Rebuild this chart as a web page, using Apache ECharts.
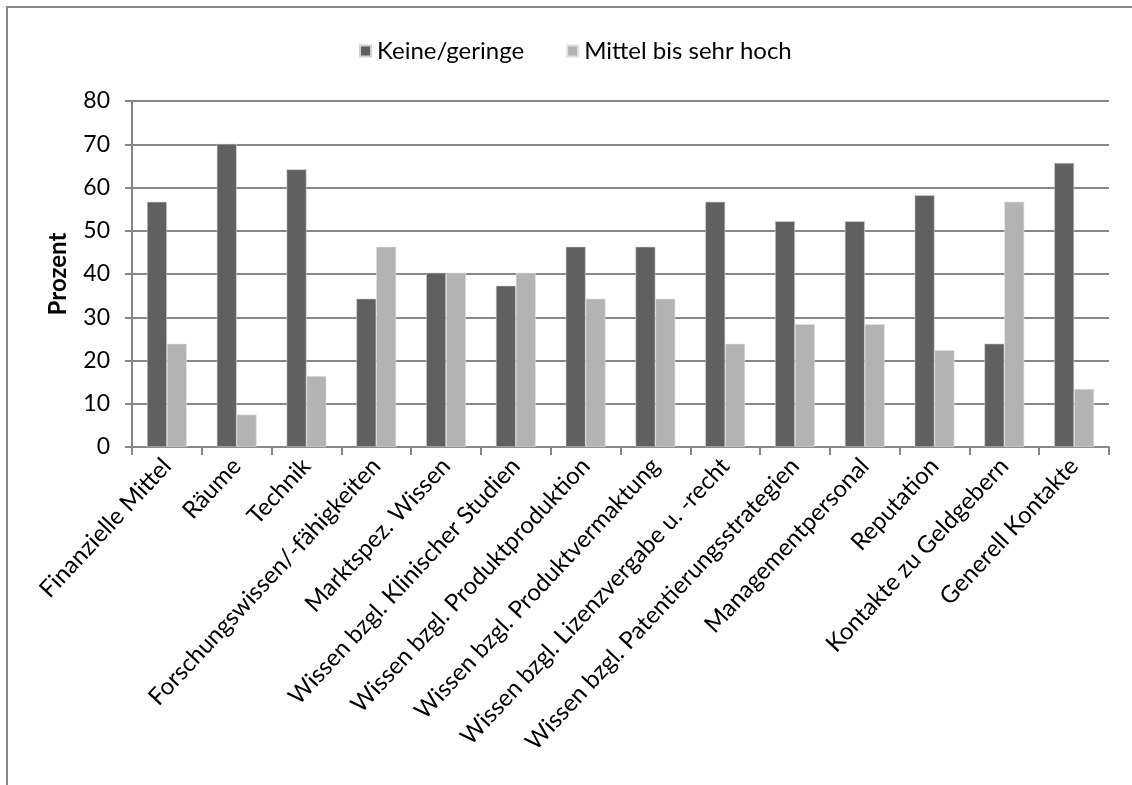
<!DOCTYPE html>
<html>
<head>
<meta charset="utf-8">
<script src="https://cdn.jsdelivr.net/npm/echarts@6/dist/echarts.min.js"></script>
<style>
  html, body { margin: 0; padding: 0; background: #fff; }
  #chart { width: 1132px; height: 785px; }
</style>
</head>
<body>
<div id="chart"></div>
<script>
// Ressourcen-Kategorien
const categories = [
  'Finanzielle Mittel',
  'Räume',
  'Technik',
  'Forschungswissen/-fähigkeiten',
  'Marktspez. Wissen',
  'Wissen bzgl. Klinischer Studien',
  'Wissen bzgl. Produktproduktion',
  'Wissen bzgl. Produktvermaktung',
  'Wissen bzgl. Lizenzvergabe u. -recht',
  'Wissen bzgl. Patentierungsstrategien',
  'Managementpersonal',
  'Reputation',
  'Kontakte zu Geldgebern',
  'Generell Kontakte'
];

// Anteile in Prozent
const keineGeringe = [56.7, 70.1, 64.2, 34.3, 40.3, 37.3, 46.3, 46.3, 56.7, 52.2, 52.2, 58.2, 23.9, 65.7];
const mittelBisSehrHoch = [23.9, 7.5, 16.4, 46.3, 40.3, 40.3, 34.3, 34.3, 23.9, 28.4, 28.4, 22.4, 56.7, 13.4];

const seriesNames = ['Keine/geringe', 'Mittel bis sehr hoch'];
const yAxisTitle = 'Prozent';

const FONT = 'Lato, "Open Sans", sans-serif';
const LINE = '#878787';

const chart = echarts.init(document.getElementById('chart'), null, { renderer: 'canvas' });

chart.setOption({
  animation: false,
  backgroundColor: '#ffffff',
  textStyle: { fontFamily: FONT, color: '#000' },
  graphic: [{
    type: 'polyline',
    shape: { points: [[7, 785], [7, 7], [1132, 7]] },
    style: { stroke: LINE, lineWidth: 2, fill: null },
    silent: true
  }],
  legend: {
    top: 34,
    left: 354,
    itemWidth: 11,
    itemHeight: 11,
    itemGap: 42,
    icon: 'rect',
    textStyle: { fontFamily: FONT, fontSize: 24, color: '#000', padding: [0, 0, 0, 1] },
    data: seriesNames
  },
  grid: {
    left: 132,
    right: 23,
    top: 101,
    bottom: 338,
    containLabel: false
  },
  xAxis: {
    type: 'category',
    data: categories,
    axisLine: { lineStyle: { color: LINE, width: 2 } },
    axisTick: { show: true, length: 8, lineStyle: { color: LINE, width: 2 } },
    axisLabel: {
      rotate: 47,
      interval: 0,
      margin: 15,
      fontFamily: FONT,
      fontSize: 24,
      color: '#000'
    }
  },
  yAxis: {
    type: 'value',
    min: 0,
    max: 80,
    interval: 10,
    name: yAxisTitle,
    nameLocation: 'middle',
    nameGap: 62,
    nameTextStyle: { fontFamily: FONT, fontSize: 24, fontWeight: 'bold', color: '#000' },
    axisLine: { show: true, lineStyle: { color: LINE, width: 2 } },
    axisTick: { show: true, length: 7, lineStyle: { color: LINE, width: 2 } },
    axisLabel: { margin: 22, fontFamily: FONT, fontSize: 23, color: '#000' },
    splitLine: { show: true, lineStyle: { color: LINE, width: 2 } }
  },
  series: [
    {
      name: seriesNames[0],
      type: 'bar',
      data: keineGeringe,
      barGap: '0%',
      barCategoryGap: '43%',
      itemStyle: { color: '#606060', borderColor: '#d0d0d0', borderWidth: 0.6 }
    },
    {
      name: seriesNames[1],
      type: 'bar',
      data: mittelBisSehrHoch,
      barGap: '0%',
      barCategoryGap: '43%',
      itemStyle: { color: '#b3b3b3', borderColor: '#e0e0e0', borderWidth: 0.6 }
    }
  ]
});
</script>
</body>
</html>
